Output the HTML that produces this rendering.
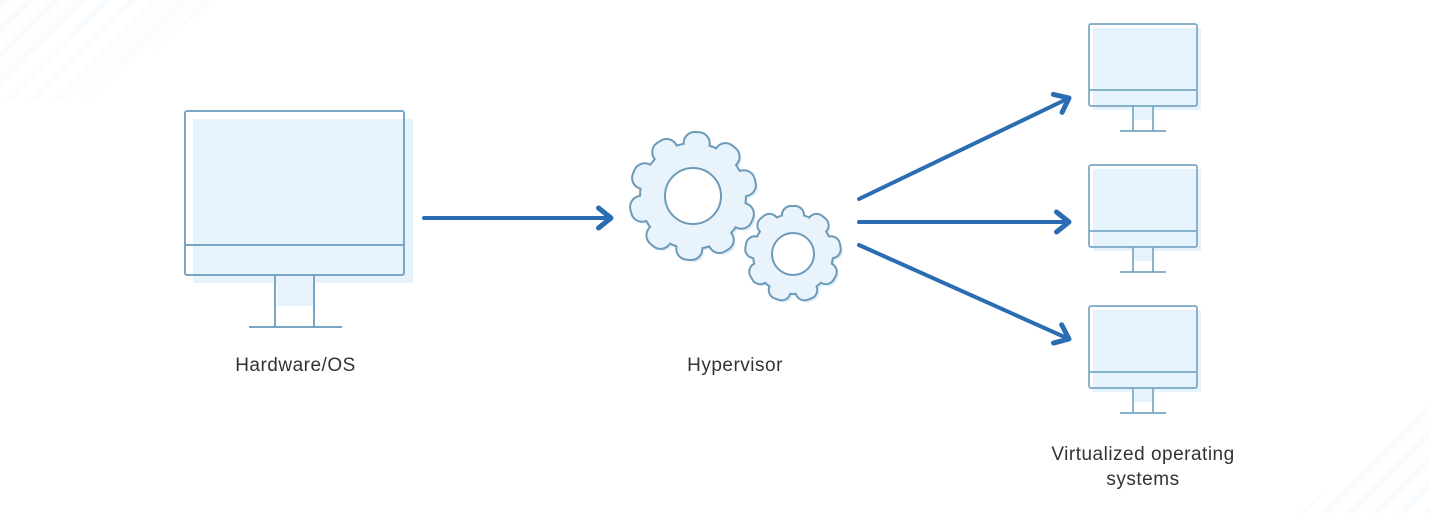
<!DOCTYPE html>
<html>
<head>
<meta charset="utf-8">
<style>
  html,body{margin:0;padding:0;background:#fff;}
  body{width:1429px;height:513px;overflow:hidden;position:relative;}
  svg{position:absolute;left:0;top:0;}
  text{font-family:"Liberation Sans",Arial,sans-serif;fill:#333;font-size:19px;}
</style>
</head>
<body>
<svg width="1429" height="513" viewBox="0 0 1429 513" xmlns="http://www.w3.org/2000/svg">
  <defs>
    <marker id="ah" markerUnits="userSpaceOnUse" markerWidth="30" markerHeight="30" refX="0" refY="0" viewBox="-16 -12 20 24" orient="auto">
      <path d="M-10,-8 L0,0 L-10,8" fill="none" stroke="#2b6db2" stroke-width="4" stroke-linecap="round" stroke-linejoin="round"/>
    </marker>
    <linearGradient id="fadeTL" x1="0" y1="0" x2="1" y2="1">
      <stop offset="0" stop-color="#fff" stop-opacity="0"/>
      <stop offset="1" stop-color="#fff" stop-opacity="1"/>
    </linearGradient>
    <pattern id="stripes" patternUnits="userSpaceOnUse" width="18" height="18" patternTransform="rotate(45)">
      <rect x="0" y="0" width="7" height="18" fill="#f1f7fc"/>
    </pattern>
    <g id="bigGear">
      <circle cx="0" cy="0" r="52"/>
      <rect x="-12" y="-63" width="24" height="24" rx="10" transform="rotate(4)"/>
      <rect x="-12" y="-63" width="24" height="24" rx="10" transform="rotate(40)"/>
      <rect x="-12" y="-63" width="24" height="24" rx="10" transform="rotate(76)"/>
      <rect x="-12" y="-63" width="24" height="24" rx="10" transform="rotate(112)"/>
      <rect x="-12" y="-63" width="24" height="24" rx="10" transform="rotate(148)"/>
      <rect x="-12" y="-63" width="24" height="24" rx="10" transform="rotate(184)"/>
      <rect x="-12" y="-63" width="24" height="24" rx="10" transform="rotate(220)"/>
      <rect x="-12" y="-63" width="24" height="24" rx="10" transform="rotate(256)"/>
      <rect x="-12" y="-63" width="24" height="24" rx="10" transform="rotate(292)"/>
      <rect x="-12" y="-63" width="24" height="24" rx="10" transform="rotate(328)"/>
    </g>
    <g id="smallGear">
      <circle cx="0" cy="0" r="39"/>
      <rect x="-10" y="-47" width="20" height="18" rx="8" transform="rotate(0)"/>
      <rect x="-10" y="-47" width="20" height="18" rx="8" transform="rotate(40)"/>
      <rect x="-10" y="-47" width="20" height="18" rx="8" transform="rotate(80)"/>
      <rect x="-10" y="-47" width="20" height="18" rx="8" transform="rotate(120)"/>
      <rect x="-10" y="-47" width="20" height="18" rx="8" transform="rotate(160)"/>
      <rect x="-10" y="-47" width="20" height="18" rx="8" transform="rotate(200)"/>
      <rect x="-10" y="-47" width="20" height="18" rx="8" transform="rotate(240)"/>
      <rect x="-10" y="-47" width="20" height="18" rx="8" transform="rotate(280)"/>
      <rect x="-10" y="-47" width="20" height="18" rx="8" transform="rotate(320)"/>
    </g>
  </defs>

  <!-- faint corner stripes -->
  <polygon points="0,0 215,0 95,100 0,100" fill="url(#stripes)" opacity="0.5"/>
  <rect x="0" y="0" width="230" height="110" fill="url(#fadeTL)" opacity="0.7"/>
  <polygon points="1429,400 1429,513 1300,513" fill="url(#stripes)" opacity="0.4"/>

  <!-- Big monitor -->
  <rect x="193" y="119" width="220" height="164" fill="#e6f3fc"/>
  <rect x="277" y="275" width="37" height="31" fill="#e6f3fc"/>
  <g fill="none" stroke="#79a6c4" stroke-width="2">
    <rect x="185" y="111" width="219" height="164" rx="2"/>
    <line x1="185" y1="245" x2="404" y2="245"/>
    <line x1="275" y1="275" x2="275" y2="327"/>
    <line x1="314" y1="275" x2="314" y2="327"/>
    <line x1="249" y1="327" x2="342" y2="327"/>
  </g>

  <!-- Arrow to gears -->
  <line x1="424" y1="218" x2="611" y2="218" stroke="#2b6db2" stroke-width="4" stroke-linecap="round" marker-end="url(#ah)"/>

  <!-- Gears -->
  <g transform="translate(696,199)" fill="#e1eff9"><use href="#bigGear"/></g>
  <g transform="translate(693,196)" fill="#6e9aba" stroke="#6e9aba" stroke-width="4"><use href="#bigGear"/></g>
  <g transform="translate(693,196)" fill="#e8f3fb"><use href="#bigGear"/></g>
  <circle cx="693" cy="196" r="28" fill="#fff" stroke="#6e9aba" stroke-width="2"/>

  <g transform="translate(796,257)" fill="#e1eff9"><use href="#smallGear"/></g>
  <g transform="translate(793,254)" fill="#6e9aba" stroke="#6e9aba" stroke-width="4"><use href="#smallGear"/></g>
  <g transform="translate(793,254)" fill="#e8f3fb"><use href="#smallGear"/></g>
  <circle cx="793" cy="254" r="21" fill="#fff" stroke="#6e9aba" stroke-width="2"/>

  <!-- Right arrows -->
  <g stroke="#2b6db2" stroke-width="4" stroke-linecap="round" fill="none">
    <line x1="859" y1="199" x2="1069" y2="98" marker-end="url(#ah)"/>
    <line x1="859" y1="222" x2="1069" y2="222" marker-end="url(#ah)"/>
    <line x1="859" y1="245" x2="1069" y2="339" marker-end="url(#ah)"/>
  </g>

  <!-- Small monitors -->
  <g>
    <rect x="1093" y="28" width="108" height="82" fill="#e6f3fc"/>
    <rect x="1134" y="106" width="19" height="14" fill="#e6f3fc"/>
    <g fill="none" stroke="#79a6c4" stroke-width="1.7">
      <rect x="1089" y="24" width="108" height="82" rx="2"/>
      <line x1="1089" y1="90" x2="1197" y2="90"/>
      <line x1="1133" y1="106" x2="1133" y2="131"/>
      <line x1="1153" y1="106" x2="1153" y2="131"/>
      <line x1="1120" y1="131" x2="1166" y2="131"/>
    </g>
  </g>
  <g transform="translate(0,141)">
    <rect x="1093" y="28" width="108" height="82" fill="#e6f3fc"/>
    <rect x="1134" y="106" width="19" height="14" fill="#e6f3fc"/>
    <g fill="none" stroke="#79a6c4" stroke-width="1.7">
      <rect x="1089" y="24" width="108" height="82" rx="2"/>
      <line x1="1089" y1="90" x2="1197" y2="90"/>
      <line x1="1133" y1="106" x2="1133" y2="131"/>
      <line x1="1153" y1="106" x2="1153" y2="131"/>
      <line x1="1120" y1="131" x2="1166" y2="131"/>
    </g>
  </g>
  <g transform="translate(0,282)">
    <rect x="1093" y="28" width="108" height="82" fill="#e6f3fc"/>
    <rect x="1134" y="106" width="19" height="14" fill="#e6f3fc"/>
    <g fill="none" stroke="#79a6c4" stroke-width="1.7">
      <rect x="1089" y="24" width="108" height="82" rx="2"/>
      <line x1="1089" y1="90" x2="1197" y2="90"/>
      <line x1="1133" y1="106" x2="1133" y2="131"/>
      <line x1="1153" y1="106" x2="1153" y2="131"/>
      <line x1="1120" y1="131" x2="1166" y2="131"/>
    </g>
  </g>

  <!-- Labels -->
  <text x="295.5" y="371" text-anchor="middle" letter-spacing="0.5">Hardware/OS</text>
  <text x="735" y="371" text-anchor="middle" letter-spacing="0.5">Hypervisor</text>
  <text x="1143" y="460" text-anchor="middle" letter-spacing="0.5">Virtualized operating</text>
  <text x="1143" y="485" text-anchor="middle" letter-spacing="0.5">systems</text>
</svg>
</body>
</html>
